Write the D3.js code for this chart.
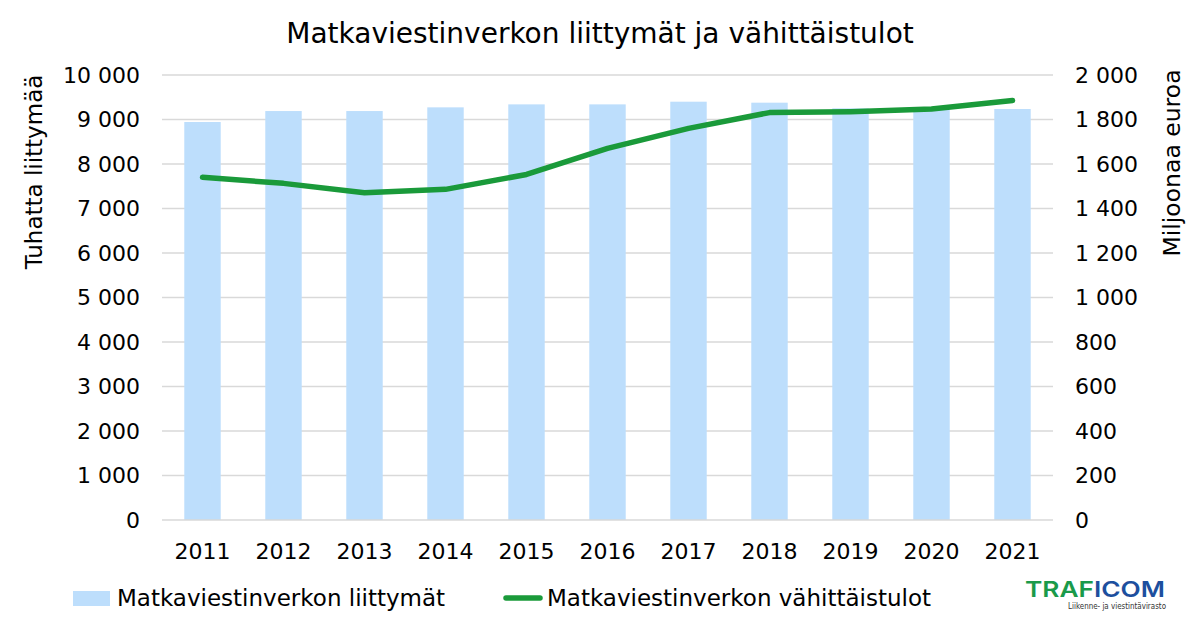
<!DOCTYPE html>
<html>
<head>
  <meta charset="UTF-8">
  <style>
    body { margin: 0; background: #fff; }
    text { font-family: "DejaVu Sans", Verdana, sans-serif; fill: #000; }
  </style>
</head>
<body>
<svg></svg>
<script src="https://d3js.org/d3.v7.min.js"></script>
<script>

// data
let years = ["2011", "2012", "2013", "2014", "2015", "2016", "2017", "2018", "2019", "2020", "2021"];
let subscriptions = [8944, 9190, 9190, 9273, 9340, 9340, 9400, 9378, 9251, 9250, 9236];   // thousands
let revenue = [1540, 1513, 1471, 1486, 1553, 1670, 1760, 1831, 1835, 1847, 1885];          // million euro
let leftTicks = [0, 1000, 2000, 3000, 4000, 5000, 6000, 7000, 8000, 9000, 10000];
let rightTicks = [0, 200, 400, 600, 800, 1000, 1200, 1400, 1600, 1800, 2000];

let width = 1200, height = 627;
let margin = {top: 75, right: 147, bottom: 107, left: 162};

let svg = d3.select("svg")
    .attr("width", width)
    .attr("height", height);

svg.append("rect").attr("width", width).attr("height", height).attr("fill", "#fff");

let x = d3.scaleBand()
    .domain(years)
    .range([margin.left, width - margin.right])
    .paddingInner(0.55)
    .paddingOuter(0.275);

let yL = d3.scaleLinear().domain([0, 10000]).range([height - margin.bottom, margin.top]);
let yR = d3.scaleLinear().domain([0, 2000]).range([height - margin.bottom, margin.top]);

let fmt = v => d3.format(",")(v).replace(/,/g, " ");

// gridlines
svg.append("g")
    .selectAll("line")
    .data(leftTicks.slice(1))
    .enter()
    .append("line")
    .attr("x1", margin.left)
    .attr("x2", width - margin.right)
    .attr("y1", d => yL(d))
    .attr("y2", d => yL(d))
    .attr("stroke", "#d9d9d9")
    .attr("stroke-width", 1.3);

// bars
svg.append("g")
    .selectAll("rect")
    .data(subscriptions)
    .enter()
    .append("rect")
    .attr("x", (d, i) => x(years[i]))
    .attr("width", x.bandwidth())
    .attr("y", d => yL(d))
    .attr("height", d => yL(0) - yL(d))
    .attr("fill", "#bddefc");

// x axis line
svg.append("line")
    .attr("x1", margin.left)
    .attr("x2", width - margin.right)
    .attr("y1", yL(0))
    .attr("y2", yL(0))
    .attr("stroke", "#d9d9d9")
    .attr("stroke-width", 1.3);

// revenue line
let line = d3.line()
    .x((d, i) => x(years[i]) + x.bandwidth() / 2)
    .y(d => yR(d));

svg.append("path")
    .datum(revenue)
    .attr("d", line)
    .attr("fill", "none")
    .attr("stroke", "#1a9a3a")
    .attr("stroke-width", 5.5)
    .attr("stroke-linecap", "round")
    .attr("stroke-linejoin", "round");

// left axis labels
svg.append("g")
    .selectAll("text")
    .data(leftTicks)
    .enter()
    .append("text")
    .attr("x", 140)
    .attr("y", d => yL(d))
    .attr("dy", "0.35em")
    .attr("text-anchor", "end")
    .attr("font-size", 22)
    .text(d => fmt(d));

// right axis labels
svg.append("g")
    .selectAll("text")
    .data(rightTicks)
    .enter()
    .append("text")
    .attr("x", 1075)
    .attr("y", d => yR(d))
    .attr("dy", "0.35em")
    .attr("text-anchor", "start")
    .attr("font-size", 22)
    .text(d => fmt(d));

// x labels
svg.append("g")
    .selectAll("text")
    .data(years)
    .enter()
    .append("text")
    .attr("x", d => x(d) + x.bandwidth() / 2)
    .attr("y", 551)
    .attr("dy", "0.35em")
    .attr("text-anchor", "middle")
    .attr("font-size", 22)
    .text(d => d);

// title
svg.append("text")
    .attr("x", 600)
    .attr("y", 33)
    .attr("dy", "0.35em")
    .attr("text-anchor", "middle")
    .attr("font-size", 28)
    .text("Matkaviestinverkon liittymät ja vähittäistulot");

// axis titles
svg.append("text")
    .attr("transform", "translate(34,172) rotate(-90)")
    .attr("dy", "0.35em")
    .attr("text-anchor", "middle")
    .attr("font-size", 23)
    .text("Tuhatta liittymää");

svg.append("text")
    .attr("transform", "translate(1172,163) rotate(-90)")
    .attr("dy", "0.35em")
    .attr("text-anchor", "middle")
    .attr("font-size", 23.5)
    .text("Miljoonaa euroa");

// legend
let legend = svg.append("g");
legend.append("rect")
    .attr("x", 73).attr("y", 591).attr("width", 37).attr("height", 15)
    .attr("fill", "#bddefc");
legend.append("text")
    .attr("x", 117).attr("y", 598).attr("dy", "0.35em")
    .attr("font-size", 23)
    .text("Matkaviestinverkon liittymät");
legend.append("line")
    .attr("x1", 506).attr("x2", 540).attr("y1", 598).attr("y2", 598)
    .attr("stroke", "#1a9a3a").attr("stroke-width", 5.5).attr("stroke-linecap", "round");
legend.append("text")
    .attr("x", 547).attr("y", 598).attr("dy", "0.35em")
    .attr("font-size", 23)
    .text("Matkaviestinverkon vähittäistulot");

// logo
let logo = svg.append("g");
let logoText = logo.append("text")
    .attr("x", 1025).attr("y", 597)
    .attr("font-size", 22)
    .style("font-family", "Inter, 'DejaVu Sans', sans-serif")
    .style("font-weight", 600)
    .attr("textLength", 140)
    .attr("lengthAdjust", "spacingAndGlyphs");
logoText.append("tspan").style("fill", "#1a9a4a").text("TRAF");
logoText.append("tspan").style("fill", "#1d4f9e").text("ICOM");
logo.append("text")
    .attr("x", 1068).attr("y", 609)
    .attr("font-size", 8.5)
    .style("fill", "#333")
    .attr("textLength", 98)
    .attr("lengthAdjust", "spacingAndGlyphs")
    .text("Liikenne- ja viestintävirasto");

</script>
</body>
</html>
